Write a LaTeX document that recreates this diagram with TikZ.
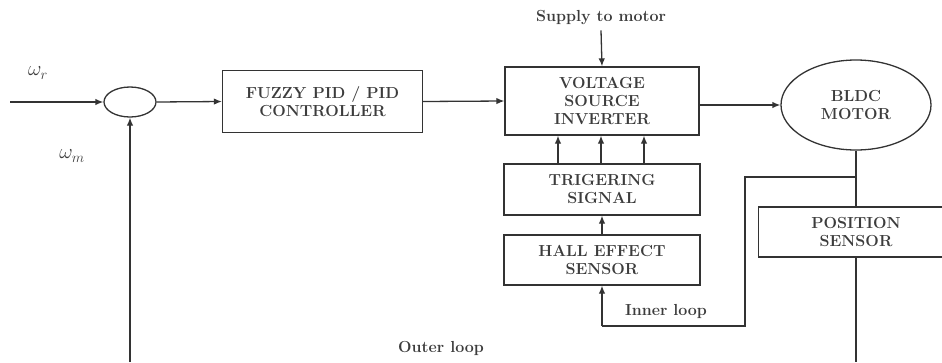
\documentclass[tikz,border=0pt]{standalone}
\usetikzlibrary{arrows.meta,shapes.geometric}
\definecolor{ink}{HTML}{333333}
\definecolor{txt}{HTML}{3C3C3C}
\tikzset{
  x=1pt,y=-1pt,
  line/.style={draw=ink,line width=1.3pt},
  arr/.style={line,-{Latex[length=8pt,width=6.5pt]}},
  tfont/.style={font=\bfseries\fontsize{16}{18}\selectfont,text=txt},
  blk/.style={draw=ink,line width=1.3pt,align=center,inner sep=0pt,tfont},
  lbl/.style={tfont,inner sep=0pt}
}
\begin{document}
\begin{tikzpicture}
\useasboundingbox (0,0) rectangle (942,362);
% nodes
\node[draw=ink,line width=1.3pt,ellipse,minimum width=52pt,minimum height=30pt,inner sep=0pt] (sum) at (130,102) {};
\node[blk,minimum width=200pt,minimum height=62pt] (pid) at (322.5,101.5) {FUZZY PID / PID\\CONTROLLER};
\node[blk,minimum width=194pt,minimum height=68pt] (vsi) at (602,101) {VOLTAGE\\SOURCE\\INVERTER};
\node[blk,minimum width=196pt,minimum height=51pt] (trig) at (602,189.5) {TRIGERING\\SIGNAL};
\node[blk,minimum width=196pt,minimum height=50pt] (hall) at (602,260) {HALL EFFECT\\SENSOR};
\node[draw=ink,line width=1.3pt,ellipse,minimum width=150pt,minimum height=90pt,inner sep=0pt,align=center,tfont] (motor) at (856,105) {BLDC\\MOTOR};
\node[blk,minimum width=190pt,minimum height=50pt,anchor=west] (pos) at (758,232) {};
\node[lbl,align=center] (postxt) at (856,232) {POSITION\\SENSOR};
\node[lbl] (supply) at (601,18) {Supply to motor};
\node[lbl,font=\fontsize{20}{22}\selectfont] (wr) at (38,73) {$\omega_r$};
\node[lbl,font=\fontsize{20}{22}\selectfont] (wm) at (72,156) {$\omega_m$};
\node[lbl] (inner) at (666,311) {Inner loop};
\node[lbl] (outer) at (441,348) {Outer loop};
\coordinate (in) at (10,102);
\coordinate (fbbot) at (130,362);
\coordinate (motbot) at (856,362);
\coordinate (tap) at (856,177);
\coordinate (ic1) at (745,177);
\coordinate (ic2) at (745,326);
\coordinate (ic3) at (602,326);
% connectors
\draw[arr] (in) -- (sum.west);
\draw[arr] (sum.east) -- (pid.west);
\draw[arr] (pid.east) -- (vsi.west);
\draw[arr] (vsi.east |- motor.west) -- (motor.west);
\draw[arr] (supply.south) ++(0,5) -- (vsi.north);
\draw[arr] (fbbot) -- (sum.south);
\foreach \xx in {558,601,644}{
  \draw[arr] (\xx,0 |- trig.north) -- (\xx,0 |- vsi.south);
}
\draw[arr] (trig.south |- hall.north) -- (trig.south);
\draw[line] (motor.south) -- (motor.south |- pos.north);
\draw[line] (motor.south |- pos.south) -- (motbot);
\draw[line] (tap) -- (ic1) -- (ic2) -- (ic3);
\draw[arr] (ic3) -- (hall.south -| ic3);
\end{tikzpicture}
\end{document}
